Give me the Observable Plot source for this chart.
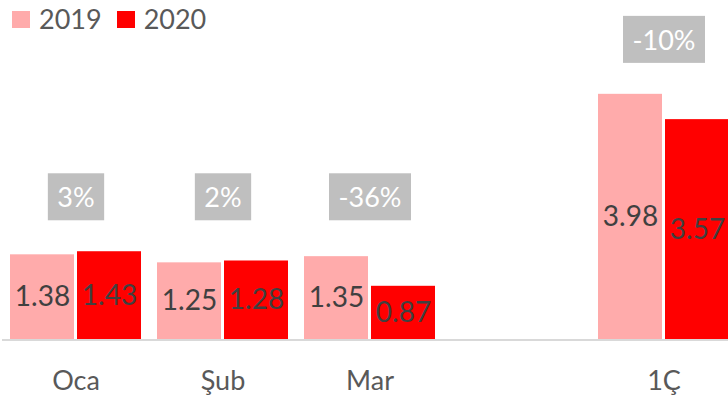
<!DOCTYPE html>
<html><head><meta charset="utf-8">
<script src="https://cdn.jsdelivr.net/npm/d3@7"></script>
<script src="https://cdn.jsdelivr.net/npm/@observablehq/plot@0.6"></script>
<style>
body{margin:0;background:#fff;}
#wrap{position:relative;width:728px;height:401px;overflow:hidden;font-family:Lato, "Open Sans", sans-serif;}
#legend{position:absolute;left:12px;top:2px;display:flex;align-items:center;font-size:27px;color:#595959;line-height:34px;}
.item{display:flex;align-items:center;margin-right:15px;}
.sw{width:18px;height:17px;display:inline-block;margin-right:9px;}
svg{display:block;}
</style></head><body><div id="wrap"><div id="legend"></div></div>
<script>
const categories = ["Oca", "Şub", "Mar", "1Ç"];
const years = ["2019", "2020"];
const values2019 = [1.38, 1.25, 1.35, 3.98];
const values2020 = [1.43, 1.28, 0.87, 3.57];
const changeLabels = ["3%", "2%", "-36%", "-10%"];
const colors = ["#FFABAB", "#FF0000"];
const gapKey = "_gap";
const fxDomain = ["Oca", "Şub", "Mar", gapKey, "1Ç"];

const bars = [];
categories.forEach((c, i) => {
  bars.push({cat: c, year: years[0], value: values2019[i]});
  bars.push({cat: c, year: years[1], value: values2020[i]});
});
const monthMax = d3.max(categories.slice(0, 3).flatMap((c, i) => [values2019[i], values2020[i]]));
const changes = categories.map((c, i) => ({
  cat: c,
  label: changeLabels[i],
  level: (i < 3 ? monthMax : Math.max(values2019[i], values2020[i])) + 0.86
}));

const legend = document.getElementById("legend");
years.forEach((y, i) => {
  const it = document.createElement("div"); it.className = "item";
  const sw = document.createElement("span"); sw.className = "sw"; sw.style.background = colors[i];
  const tx = document.createElement("span"); tx.textContent = y;
  it.appendChild(sw); it.appendChild(tx); legend.appendChild(it);
});

const chart = Plot.plot({
  width: 728,
  height: 401,
  marginTop: 0,
  marginBottom: 61.5,
  marginLeft: 0,
  marginRight: 0,
  style: {fontFamily: "Lato, 'Open Sans', sans-serif", background: "transparent"},
  fx: {domain: fxDomain, range: [1.5, 736.5], padding: 0},
  x: {domain: years, paddingInner: 0.05, paddingOuter: 0.121, axis: null},
  y: {domain: [0, 5.5], axis: null},
  color: {domain: years, range: colors},
  marks: [
    Plot.barY(bars, {fx: "cat", x: "year", y: "value", fill: "year"}),
    Plot.ruleY(fxDomain, {fx: d => d, y: 0, stroke: "#D9D9D9", strokeWidth: 2}),
    Plot.text(bars, {fx: "cat", x: "year", y: d => d.value / 2, text: d => d.value.toFixed(2), fill: "#404040", fontSize: 28}),
    Plot.text(changes, {fx: "cat", y: "level", text: "label", fill: "#FFFFFF", fontSize: 27}),
    Plot.axisFx({anchor: "bottom", tickSize: 0, tickPadding: 31, fontSize: 27, color: "#595959", label: null, tickFormat: d => d === gapKey ? "" : d})
  ]
});
document.getElementById("wrap").appendChild(chart);
const labelSet = new Set(changeLabels);
[...chart.querySelectorAll("text")].filter(t => labelSet.has(t.textContent)).forEach(t => {
  const b = t.getBBox();
  const r = document.createElementNS("http://www.w3.org/2000/svg", "rect");
  r.setAttribute("x", b.x - 9.5);
  r.setAttribute("width", b.width + 19);
  r.setAttribute("y", b.y + b.height / 2 - 23.5);
  r.setAttribute("height", 47);
  r.setAttribute("fill", "#BFBFBF");
  if (t.getAttribute("transform")) r.setAttribute("transform", t.getAttribute("transform"));
  t.parentNode.insertBefore(r, t);
});
</script></body></html>
